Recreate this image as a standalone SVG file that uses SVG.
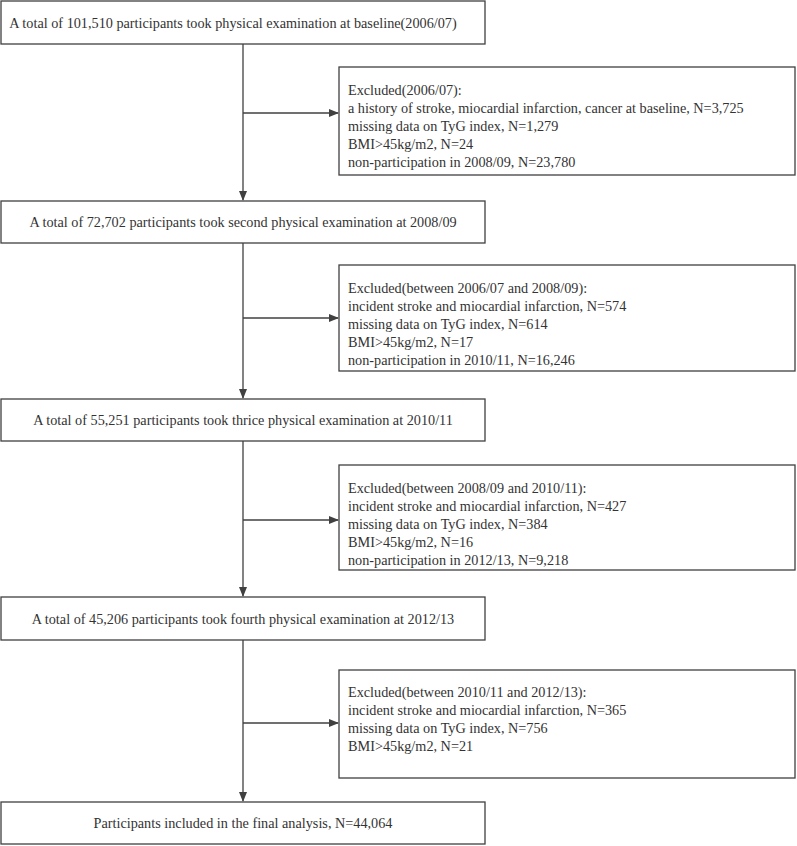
<svg xmlns="http://www.w3.org/2000/svg" width="797" height="846" viewBox="0 0 797 846">
<style>
rect{fill:#fff;stroke:#404040;stroke-width:1.3}
text{font-family:"Liberation Serif",serif;font-size:15px;fill:#333}
.c{text-anchor:middle}
line{stroke:#404040;stroke-width:1.3}
</style>
<defs><marker id="a" markerWidth="10" markerHeight="8" refX="9" refY="4" orient="auto" markerUnits="userSpaceOnUse"><path d="M0,0L10,4L0,8z" fill="#404040"/></marker></defs>
<rect width="797" height="846" fill="#fff" style="stroke:none"/>
<g id="connectors">
<line x1="243" y1="44" x2="243" y2="200" marker-end="url(#a)"/>
<line x1="243" y1="113" x2="338" y2="113" marker-end="url(#a)"/>
<line x1="243" y1="243" x2="243" y2="398" marker-end="url(#a)"/>
<line x1="243" y1="318" x2="338" y2="318" marker-end="url(#a)"/>
<line x1="243" y1="441" x2="243" y2="596" marker-end="url(#a)"/>
<line x1="243" y1="520" x2="338" y2="520" marker-end="url(#a)"/>
<line x1="243" y1="640" x2="243" y2="801" marker-end="url(#a)"/>
<line x1="243" y1="723" x2="338" y2="723" marker-end="url(#a)"/>
</g>
<g id="n1"><rect x="1" y="1" width="484" height="43"/><text class="c" transform="translate(233,28) scale(0.95,1)">A total of 101,510 participants took physical examination at baseline(2006/07)</text></g>
<g id="e1"><rect x="339" y="67" width="456" height="108"/>
<g transform="translate(348,0) scale(0.95,1)"><text x="0" y="95">Excluded(2006/07):</text><text x="0" y="113">a history of stroke, miocardial infarction, cancer at baseline, N=3,725</text><text x="0" y="131">missing data on TyG index, N=1,279</text><text x="0" y="149">BMI&gt;45kg/m2, N=24</text><text x="0" y="167">non-participation in 2008/09, N=23,780</text></g></g>
<g id="n2"><rect x="1" y="201" width="484" height="42"/><text class="c" transform="translate(243,227) scale(0.95,1)">A total of 72,702 participants took second physical examination at 2008/09</text></g>
<g id="e2"><rect x="339" y="265" width="456" height="106"/>
<g transform="translate(348,0) scale(0.95,1)"><text x="0" y="293">Excluded(between 2006/07 and 2008/09):</text><text x="0" y="311">incident stroke and miocardial infarction, N=574</text><text x="0" y="329">missing data on TyG index, N=614</text><text x="0" y="347">BMI&gt;45kg/m2, N=17</text><text x="0" y="365">non-participation in 2010/11, N=16,246</text></g></g>
<g id="n3"><rect x="1" y="399" width="484" height="42"/><text class="c" transform="translate(243,425) scale(0.95,1)">A total of 55,251 participants took thrice physical examination at 2010/11</text></g>
<g id="e3"><rect x="339" y="465" width="456" height="105"/>
<g transform="translate(348,0) scale(0.95,1)"><text x="0" y="493">Excluded(between 2008/09 and 2010/11):</text><text x="0" y="511">incident stroke and miocardial infarction, N=427</text><text x="0" y="529">missing data on TyG index, N=384</text><text x="0" y="547">BMI&gt;45kg/m2, N=16</text><text x="0" y="565">non-participation in 2012/13, N=9,218</text></g></g>
<g id="n4"><rect x="1" y="597" width="484" height="43"/><text class="c" transform="translate(243,624) scale(0.95,1)">A total of 45,206 participants took fourth physical examination at 2012/13</text></g>
<g id="e4"><rect x="339" y="670" width="456" height="108"/>
<g transform="translate(348,0) scale(0.95,1)"><text x="0" y="697">Excluded(between 2010/11 and 2012/13):</text><text x="0" y="715">incident stroke and miocardial infarction, N=365</text><text x="0" y="733">missing data on TyG index, N=756</text><text x="0" y="751">BMI&gt;45kg/m2, N=21</text></g></g>
<g id="n5"><rect x="1" y="802" width="484" height="42"/><text class="c" transform="translate(243,828) scale(0.95,1)">Participants included in the final analysis, N=44,064</text></g>
</svg>
